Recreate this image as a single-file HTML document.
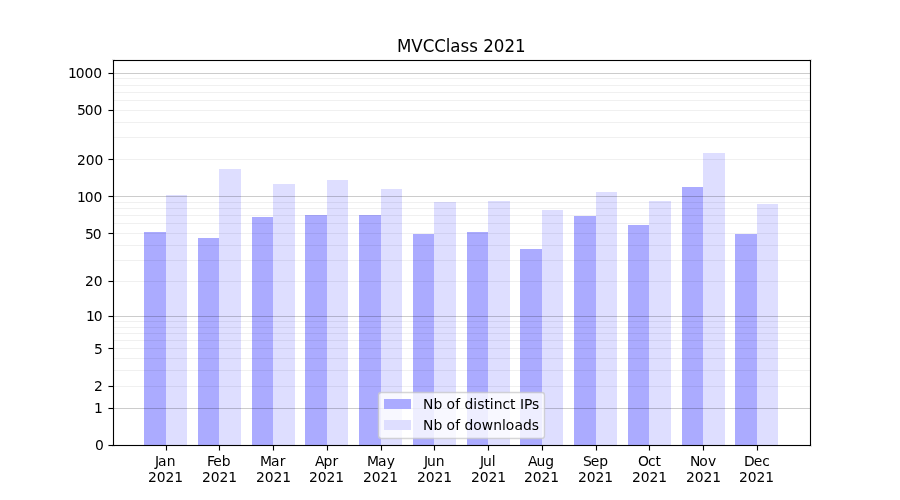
<!DOCTYPE html>
<html lang="en"><head><meta charset="utf-8"><title>MVCClass 2021</title>
<style>
html,body{margin:0;padding:0;background:#fff;}
body{width:900px;height:500px;overflow:hidden;}
svg{display:block;}
svg text{font-family:'DejaVu Sans','Liberation Sans',sans-serif;font-size:13.889px;fill:#000;}
.cr{shape-rendering:crispEdges;}
</style></head><body>
<svg width="900" height="500" viewBox="0 0 900 500">
<rect width="900" height="500" fill="#fff"/>
<g class="cr" fill="#0000ff">
<rect x="144" y="232" width="22" height="213" fill-opacity="0.33"/><rect x="166" y="195" width="21" height="250" fill-opacity="0.13"/>
<rect x="198" y="238" width="21" height="207" fill-opacity="0.33"/><rect x="219" y="169" width="22" height="276" fill-opacity="0.13"/>
<rect x="252" y="217" width="21" height="228" fill-opacity="0.33"/><rect x="273" y="184" width="22" height="261" fill-opacity="0.13"/>
<rect x="305" y="215" width="22" height="230" fill-opacity="0.33"/><rect x="327" y="180" width="21" height="265" fill-opacity="0.13"/>
<rect x="359" y="215" width="22" height="230" fill-opacity="0.33"/><rect x="381" y="189" width="21" height="256" fill-opacity="0.13"/>
<rect x="413" y="234" width="21" height="211" fill-opacity="0.33"/><rect x="434" y="202" width="22" height="243" fill-opacity="0.13"/>
<rect x="467" y="232" width="21" height="213" fill-opacity="0.33"/><rect x="488" y="201" width="22" height="244" fill-opacity="0.13"/>
<rect x="520" y="249" width="22" height="196" fill-opacity="0.33"/><rect x="542" y="210" width="21" height="235" fill-opacity="0.13"/>
<rect x="574" y="216" width="22" height="229" fill-opacity="0.33"/><rect x="596" y="192" width="21" height="253" fill-opacity="0.13"/>
<rect x="628" y="225" width="21" height="220" fill-opacity="0.33"/><rect x="649" y="201" width="22" height="244" fill-opacity="0.13"/>
<rect x="682" y="187" width="21" height="258" fill-opacity="0.33"/><rect x="703" y="153" width="22" height="292" fill-opacity="0.13"/>
<rect x="735" y="234" width="22" height="211" fill-opacity="0.33"/><rect x="757" y="204" width="21" height="241" fill-opacity="0.13"/>
</g>
<g class="cr" fill="#000">
<rect x="113" y="386" width="698" height="1" fill-opacity="0.06"/><rect x="113" y="370" width="698" height="1" fill-opacity="0.06"/><rect x="113" y="358" width="698" height="1" fill-opacity="0.06"/><rect x="113" y="348" width="698" height="1" fill-opacity="0.06"/><rect x="113" y="340" width="698" height="1" fill-opacity="0.06"/><rect x="113" y="333" width="698" height="1" fill-opacity="0.06"/><rect x="113" y="327" width="698" height="1" fill-opacity="0.06"/><rect x="113" y="321" width="698" height="1" fill-opacity="0.06"/><rect x="113" y="281" width="698" height="1" fill-opacity="0.06"/><rect x="113" y="260" width="698" height="1" fill-opacity="0.06"/><rect x="113" y="245" width="698" height="1" fill-opacity="0.06"/><rect x="113" y="233" width="698" height="1" fill-opacity="0.06"/><rect x="113" y="223" width="698" height="1" fill-opacity="0.06"/><rect x="113" y="215" width="698" height="1" fill-opacity="0.06"/><rect x="113" y="208" width="698" height="1" fill-opacity="0.06"/><rect x="113" y="202" width="698" height="1" fill-opacity="0.06"/><rect x="113" y="159" width="698" height="1" fill-opacity="0.06"/><rect x="113" y="137" width="698" height="1" fill-opacity="0.06"/><rect x="113" y="122" width="698" height="1" fill-opacity="0.06"/><rect x="113" y="110" width="698" height="1" fill-opacity="0.06"/><rect x="113" y="100" width="698" height="1" fill-opacity="0.06"/><rect x="113" y="92" width="698" height="1" fill-opacity="0.06"/><rect x="113" y="85" width="698" height="1" fill-opacity="0.06"/><rect x="113" y="78" width="698" height="1" fill-opacity="0.06"/>
<rect x="113" y="408" width="698" height="1" fill-opacity="0.2"/><rect x="113" y="316" width="698" height="1" fill-opacity="0.2"/><rect x="113" y="196" width="698" height="1" fill-opacity="0.2"/><rect x="113" y="73" width="698" height="1" fill-opacity="0.2"/>
</g>
<g class="cr" fill="#000">
<g fill-opacity="0.055"><rect x="112" y="59" width="700" height="3"/><rect x="112" y="444" width="700" height="3"/><rect x="112" y="59" width="3" height="388"/><rect x="809" y="59" width="3" height="388"/></g>
<rect x="113" y="60" width="698" height="1"/><rect x="113" y="445" width="698" height="1"/><rect x="113" y="60" width="1" height="386"/><rect x="810" y="60" width="1" height="386"/>
<rect x="165" y="446" width="3" height="5" fill-opacity="0.055"/><rect x="166" y="446" width="1" height="4"/><rect x="166" y="450" width="1" height="1" fill-opacity="0.5"/><rect x="218" y="446" width="3" height="5" fill-opacity="0.055"/><rect x="219" y="446" width="1" height="4"/><rect x="219" y="450" width="1" height="1" fill-opacity="0.5"/><rect x="272" y="446" width="3" height="5" fill-opacity="0.055"/><rect x="273" y="446" width="1" height="4"/><rect x="273" y="450" width="1" height="1" fill-opacity="0.5"/><rect x="326" y="446" width="3" height="5" fill-opacity="0.055"/><rect x="327" y="446" width="1" height="4"/><rect x="327" y="450" width="1" height="1" fill-opacity="0.5"/><rect x="380" y="446" width="3" height="5" fill-opacity="0.055"/><rect x="381" y="446" width="1" height="4"/><rect x="381" y="450" width="1" height="1" fill-opacity="0.5"/><rect x="433" y="446" width="3" height="5" fill-opacity="0.055"/><rect x="434" y="446" width="1" height="4"/><rect x="434" y="450" width="1" height="1" fill-opacity="0.5"/><rect x="487" y="446" width="3" height="5" fill-opacity="0.055"/><rect x="488" y="446" width="1" height="4"/><rect x="488" y="450" width="1" height="1" fill-opacity="0.5"/><rect x="541" y="446" width="3" height="5" fill-opacity="0.055"/><rect x="542" y="446" width="1" height="4"/><rect x="542" y="450" width="1" height="1" fill-opacity="0.5"/><rect x="595" y="446" width="3" height="5" fill-opacity="0.055"/><rect x="596" y="446" width="1" height="4"/><rect x="596" y="450" width="1" height="1" fill-opacity="0.5"/><rect x="648" y="446" width="3" height="5" fill-opacity="0.055"/><rect x="649" y="446" width="1" height="4"/><rect x="649" y="450" width="1" height="1" fill-opacity="0.5"/><rect x="702" y="446" width="3" height="5" fill-opacity="0.055"/><rect x="703" y="446" width="1" height="4"/><rect x="703" y="450" width="1" height="1" fill-opacity="0.5"/><rect x="756" y="446" width="3" height="5" fill-opacity="0.055"/><rect x="757" y="446" width="1" height="4"/><rect x="757" y="450" width="1" height="1" fill-opacity="0.5"/>
<rect x="108" y="444" width="5" height="3" fill-opacity="0.055"/><rect x="109" y="445" width="4" height="1"/><rect x="108" y="445" width="1" height="1" fill-opacity="0.5"/><rect x="108" y="407" width="5" height="3" fill-opacity="0.055"/><rect x="109" y="408" width="4" height="1"/><rect x="108" y="408" width="1" height="1" fill-opacity="0.5"/><rect x="108" y="385" width="5" height="3" fill-opacity="0.055"/><rect x="109" y="386" width="4" height="1"/><rect x="108" y="386" width="1" height="1" fill-opacity="0.5"/><rect x="108" y="347" width="5" height="3" fill-opacity="0.055"/><rect x="109" y="348" width="4" height="1"/><rect x="108" y="348" width="1" height="1" fill-opacity="0.5"/><rect x="108" y="315" width="5" height="3" fill-opacity="0.055"/><rect x="109" y="316" width="4" height="1"/><rect x="108" y="316" width="1" height="1" fill-opacity="0.5"/><rect x="108" y="280" width="5" height="3" fill-opacity="0.055"/><rect x="109" y="281" width="4" height="1"/><rect x="108" y="281" width="1" height="1" fill-opacity="0.5"/><rect x="108" y="232" width="5" height="3" fill-opacity="0.055"/><rect x="109" y="233" width="4" height="1"/><rect x="108" y="233" width="1" height="1" fill-opacity="0.5"/><rect x="108" y="195" width="5" height="3" fill-opacity="0.055"/><rect x="109" y="196" width="4" height="1"/><rect x="108" y="196" width="1" height="1" fill-opacity="0.5"/><rect x="108" y="158" width="5" height="3" fill-opacity="0.055"/><rect x="109" y="159" width="4" height="1"/><rect x="108" y="159" width="1" height="1" fill-opacity="0.5"/><rect x="108" y="109" width="5" height="3" fill-opacity="0.055"/><rect x="109" y="110" width="4" height="1"/><rect x="108" y="110" width="1" height="1" fill-opacity="0.5"/><rect x="108" y="72" width="5" height="3" fill-opacity="0.055"/><rect x="109" y="73" width="4" height="1"/><rect x="108" y="73" width="1" height="1" fill-opacity="0.5"/>
</g>
<text id="t_y0" x="94.952" y="449.78">0</text>
<text id="t_y1" x="93.952" y="412.92">1</text>
<text id="t_y2" x="93.952" y="390.57">2</text>
<text id="t_y5" x="93.952" y="353.71">5</text>
<text id="t_y10" x="86.124 93.686" y="320.54">10</text>
<text id="t_y20" x="85.124 93.686" y="285.69">20</text>
<text id="t_y50" x="84.999 92.686" y="238.87">50</text>
<text id="t_y100" x="77.046 84.858 93.436" y="201.54">100</text>
<text id="t_y200" x="77.046 85.858 94.436" y="164.95">200</text>
<text id="t_y500" x="76.921 84.858 93.436" y="114.73">500</text>
<text id="t_y1000" x="67.967 75.780 84.608 93.186" y="77.92">1000</text>
<text id="t_Jan" x="155.005 158.083 166.848" y="465.78">Jan</text>
<text id="t_Jan21" x="148.044 156.856 165.434 174.262" y="481.83">2021</text>
<text id="t_Feb" x="206.901 213.370 221.651" y="465.78">Feb</text>
<text id="t_Feb21" x="202.034 210.846 219.424 228.253" y="481.83">2021</text>
<text id="t_Mar" x="260.076 271.045 279.795" y="465.78">Mar</text>
<text id="t_Mar21" x="256.014 264.826 273.404 282.233" y="481.83">2021</text>
<text id="t_Apr" x="314.902 323.387 332.449" y="465.78">Apr</text>
<text id="t_Apr21" x="309.004 317.816 326.394 335.223" y="481.83">2021</text>
<text id="t_May" x="367.056 378.025 386.775" y="465.78">May</text>
<text id="t_May21" x="362.994 371.806 380.384 389.212" y="481.83">2021</text>
<text id="t_Jun" x="423.911 427.114 435.661" y="465.78">Jun</text>
<text id="t_Jun21" x="416.974 425.786 434.614 443.193" y="481.83">2021</text>
<text id="t_Jul" x="479.995 483.073 491.870" y="465.78">Jul</text>
<text id="t_Jul21" x="470.964 479.776 488.604 497.182" y="481.83">2021</text>
<text id="t_Aug" x="528.063 536.547 545.344" y="465.78">Aug</text>
<text id="t_Aug21" x="523.954 532.766 541.594 550.172" y="481.83">2021</text>
<text id="t_Sep" x="583.012 590.809 599.356" y="465.78">Sep</text>
<text id="t_Sep21" x="577.934 586.746 595.574 604.153" y="481.83">2021</text>
<text id="t_Oct" x="638.080 647.986 655.377" y="465.78">Oct</text>
<text id="t_Oct21" x="631.924 640.736 649.564 658.143" y="481.83">2021</text>
<text id="t_Nov" x="690.023 699.148 707.883" y="465.78">Nov</text>
<text id="t_Nov21" x="685.914 694.726 703.554 712.133" y="481.83">2021</text>
<text id="t_Dec" x="744.120 753.792 762.339" y="465.78">Dec</text>
<text id="t_Dec21" x="738.894 747.706 756.534 765.362" y="481.83">2021</text>
<g opacity="0.8"><rect x="378.5" y="392.5" width="166" height="46" rx="2.78" ry="2.78" fill="#fff" stroke="#ccc" stroke-width="1.389"/></g>
<g class="cr"><rect x="384" y="399" width="27" height="10" fill="#ababff"/><rect x="384" y="420" width="27" height="10" fill="#dedeff"/></g>
<text id="t_leg1" x="422.990 433.615 442.412 446.584 455.318 460.209 464.615 473.177 477.271 484.506 489.693 493.802 502.599 509.974 515.662 520.068 523.912 532.037" y="408.73">Nb of distinct IPs</text>
<text id="t_leg2" x="422.990 433.615 442.412 446.584 455.318 460.209 464.615 473.177 481.662 493.256 502.052 505.662 514.396 522.896 531.709" y="429.61">Nb of downloads</text>
<g transform="translate(0 51.67) scale(1 1.040)"><text id="t_title" x="397.021 411.137 422.797 434.172 445.812 450.187 460.403 469.337 478.021 483.305 493.668 504.517 515.115" y="0" style="font-size:16.667px">MVCClass 2021</text></g>
</svg>
</body></html>
